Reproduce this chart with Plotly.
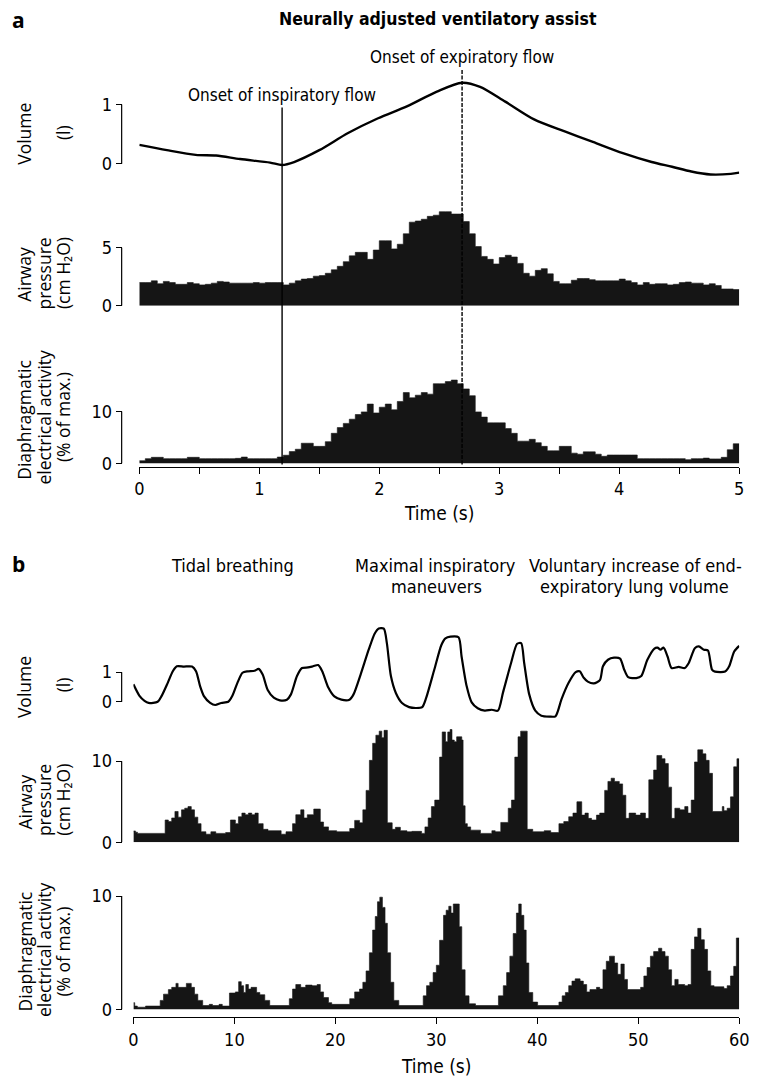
import plotly.graph_objects as go

W, H = 762, 1089
def px(x): return x / W
def py(y): return 1 - y / H

# ---------------- Panel a data ----------------
vol_a_t = [0, 0.23, 0.47, 0.64, 0.84, 1.09, 1.19, 1.29, 1.5, 1.74, 1.99, 2.23, 2.48, 2.69,
           2.84, 3.05, 3.29, 3.54, 3.78, 4.03, 4.27, 4.44, 4.6, 4.76, 4.93, 5.0]
vol_a_v = [0.32, 0.23, 0.15, 0.14, 0.08, 0.02, -0.02, 0.03, 0.23, 0.52, 0.77, 0.97, 1.22, 1.37,
           1.3, 1.05, 0.75, 0.55, 0.37, 0.18, 0.03, -0.05, -0.13, -0.18, -0.17, -0.15]

step_a = 0.05
paw_a = [2.0, 2.0, 2.15, 1.9, 2.1, 2.0, 1.85, 1.85, 2.0, 1.9,
         1.8, 1.85, 1.95, 2.1, 2.05, 1.95, 1.95, 1.95, 1.95, 2.0,
         1.95, 2.0, 2.0, 2.0, 1.8, 1.95, 2.15, 2.3, 2.35, 2.55,
         2.6, 2.8, 3.1, 3.4, 3.8, 4.3, 4.6, 4.6, 4.0, 4.8,
         5.6, 5.6, 4.9, 5.3, 6.2, 7.2, 7.3, 7.45, 7.7, 7.8,
         8.1, 8.1, 7.9, 7.9, 7.25, 6.2, 5.1, 4.25, 4.0, 3.6,
         4.15, 4.35, 4.2, 3.65, 2.8, 2.55, 3.05, 3.2, 2.75, 2.1,
         1.9, 1.9, 2.2, 2.35, 2.35, 2.25, 2.15, 2.15, 2.15, 2.15,
         2.3, 2.15, 2.0, 1.8, 2.0, 1.85, 1.9, 1.9, 1.8, 1.85,
         2.0, 2.05, 1.95, 1.95, 1.8, 1.9, 1.75, 1.45, 1.45, 1.4]
eadi_a = [0.55, 0.95, 1.2, 1.2, 0.95, 0.95, 0.95, 0.95, 1.2, 1.2,
          0.95, 0.95, 0.95, 0.95, 0.95, 0.95, 1.0, 1.25, 0.95, 0.95,
          0.95, 0.95, 0.95, 1.25, 1.6, 2.3, 2.75, 3.9, 3.9, 3.3,
          3.3, 4.2, 5.8, 6.9, 7.7, 8.5, 9.4, 9.9, 11.4, 9.7,
          10.8, 11.4, 10.3, 11.9, 13.6, 12.6, 13.1, 13.6, 13.3, 15.3,
          15.3, 15.7, 16.0, 15.3, 14.3, 13.0, 9.9, 8.9, 7.8, 7.8,
          7.8, 6.7, 5.8, 4.3, 4.3, 4.65, 4.0, 3.3, 2.45, 2.45,
          3.3, 3.3, 2.0, 1.8, 2.25, 2.25, 1.8, 1.4, 1.65, 1.65,
          1.65, 1.65, 1.65, 0.95, 0.95, 0.95, 0.95, 0.95, 0.95, 0.95,
          0.95, 0.75, 0.95, 0.95, 1.05, 0.9, 0.9, 1.2, 2.65, 3.8]
onset_insp = 1.19
onset_exp = 2.69

# ---------------- Panel b data ----------------
vol_b_t = [0, 0.6, 1.1, 1.5, 2.4, 2.8, 3.4, 3.9, 4.3, 5.0, 5.8, 6.2, 6.6, 7.0, 7.6, 8.1, 8.7,
           9.4, 9.8, 10.3, 10.8, 11.3, 12.0, 12.4, 12.8, 13.3, 13.9, 14.5, 15.2, 15.6, 16.2,
           16.7, 17.3, 17.8, 18.3, 18.7, 19.3, 19.9, 20.6, 21.4, 21.8, 22.5, 23.3, 23.9, 24.3,
           24.8, 25.1, 25.5, 26.0, 26.6, 27.3, 28.0, 28.6, 29.0, 29.8, 30.5, 30.9, 31.4, 32.2,
           32.5, 33.0, 33.5, 34.1, 34.8, 35.5, 36.1, 36.6, 37.4, 38.0, 38.4, 38.7, 39.2, 39.8,
           40.4, 41.2, 41.8, 42.4, 43.1, 43.8, 44.2, 44.6, 45.0, 45.6, 46.2, 46.5, 47.0, 47.6,
           48.2, 48.6, 49.0, 49.8, 50.3, 50.9, 51.6, 51.9, 52.2, 52.5, 52.9, 53.3, 54.0, 54.6,
           55.0, 55.6, 56.0, 56.5, 56.9, 57.3, 57.6, 58.6, 59.0, 59.5, 60.0]
vol_b_v = [0.59, 0.2, 0.03, -0.04, 0.0, 0.2, 0.64, 1.03, 1.2, 1.19, 1.19, 1.03, 0.53, 0.18, -0.04, -0.11, -0.04,
           0.0, 0.2, 0.64, 0.98, 1.03, 1.05, 1.11, 0.92, 0.4, 0.14, 0.05, 0.07, 0.25, 0.87,
           1.14, 1.16, 1.2, 1.24, 1.03, 0.48, 0.18, 0.07, 0.07, 0.25, 0.92, 1.76, 2.31, 2.48,
           2.47, 1.98, 0.87, 0.29, -0.04, -0.18, -0.21, -0.18, 0.14, 1.09, 1.92, 2.14, 2.2, 2.18,
           1.53, 0.53, -0.02, -0.22, -0.3, -0.27, -0.3, 0.31, 1.31, 1.96, 1.98, 1.31, 0.25, -0.3,
           -0.47, -0.5, -0.49, 0.09, 0.64, 1.0, 1.03, 0.81, 0.68, 0.62, 0.73, 1.2, 1.42, 1.49,
           1.46, 1.09, 0.83, 0.8, 0.87, 1.42, 1.8, 1.83, 1.76, 1.83, 1.53, 1.14, 1.18, 1.14,
           1.31, 1.81, 1.87, 1.76, 1.73, 1.09, 1.02, 1.02, 1.2, 1.7, 1.89]

paw_b_t = [0, 0.2, 0.4, 3.14, 3.46, 3.79, 4.11, 4.43, 4.76, 5.08, 5.4, 5.73, 6.05, 6.38, 6.7, 7.18,
           7.67, 8.16, 9.13, 9.61, 10.1, 10.4, 10.74, 11.07, 11.39, 11.72, 12.04, 12.36, 12.85,
           13.33, 14.63, 15.11, 15.76, 16.08, 16.57, 16.89, 17.22, 17.86, 18.51, 18.83, 19.32,
           20.13, 21.42, 21.91, 22.39, 22.72, 23.04, 23.37, 23.69, 24.01, 24.34, 24.6, 24.82,
           25.15, 25.63, 25.95, 26.44, 27.09, 27.57, 28.54, 28.87, 29.19, 29.51, 29.84, 30.32,
           30.58, 30.91, 31.13, 31.36, 31.55, 31.78, 32.01, 32.52, 32.65, 32.85, 33.07, 33.4,
           34.37, 35.5, 35.83, 36.38, 37.12, 37.44, 37.77, 38.09, 38.35, 39.0, 39.55, 40.68,
           41.33, 42.14, 42.62, 43.11, 43.53, 43.92, 44.4, 44.72, 45.05, 45.37, 45.86, 46.18,
           46.67, 46.99, 47.31, 47.64, 48.12, 48.45, 48.77, 49.09, 49.74, 50.23, 50.71, 51.04,
           51.52, 51.84, 52.33, 52.65, 52.98, 53.3, 53.62, 54.11, 54.6, 54.92, 55.24, 55.57,
           55.89, 56.38, 56.7, 57.02, 57.35, 58.32, 58.48, 58.8, 59.13, 59.45, 59.77]
paw_b_v = [1.4, 1.25, 1.1, 2.75, 2.55, 3.0, 3.8, 3.1, 4.0, 4.2, 4.4, 4.0, 3.1, 2.3, 1.3, 1.0,
           1.3, 1.1, 1.2, 2.75, 2.3, 3.15, 3.6, 3.4, 3.6, 3.4, 3.6, 2.3, 1.6,
           1.43, 1.0, 1.3, 2.3, 3.4, 4.0, 3.0, 3.4, 4.1, 2.5, 1.9, 1.43,
           1.3, 1.7, 2.7, 2.4, 4.0, 6.4, 10.1, 12.2, 13.2, 13.7, 12.9, 13.8,
           2.4, 1.6, 1.85, 1.43, 1.3, 1.35, 1.1, 1.9, 3.0, 4.4, 5.2, 10.5,
           13.6, 12.4, 13.6, 13.9, 12.6, 12.4, 13.0, 12.6, 4.5, 2.3, 1.9, 1.5,
           1.1, 1.43, 1.3, 2.45, 4.2, 5.2, 10.5, 13.0, 13.7, 1.6, 1.3, 1.43,
           1.2, 2.3, 2.55, 3.15, 3.6, 5.0, 3.35, 3.6, 2.95, 2.75, 3.35, 3.6,
           6.4, 7.5, 7.9, 7.5, 7.2, 5.8, 2.95, 3.6, 3.35, 3.6, 2.95, 7.7,
           8.9, 10.7, 10.3, 9.7, 6.8, 2.95, 4.2, 4.0, 4.4, 3.6, 5.2, 9.9,
           11.4, 10.9, 10.1, 8.5, 3.8, 4.4, 3.9, 4.2, 5.6, 9.3, 10.3]

eadi_b_t = [0, 0.13, 0.39, 1.2, 2.65, 2.98, 3.46, 3.79, 4.21, 4.43, 5.24, 5.73, 6.05, 6.38, 6.86,
            7.51, 7.83, 8.48, 8.8, 9.51, 10.1, 10.42, 10.68, 10.91, 11.13, 11.39, 11.65, 12.2,
            12.52, 13.01, 13.5, 15.44, 15.76, 16.08, 16.57, 17.06, 17.7, 18.19, 18.51, 18.83,
            19.32, 19.64, 21.42, 21.91, 22.39, 22.72, 23.04, 23.37, 23.69, 23.95, 24.17, 24.4,
            24.66, 24.92, 25.15, 25.47, 25.79, 26.28, 28.7, 29.03, 29.35, 29.68, 30.0, 30.32,
            30.71, 30.97, 31.23, 31.46, 31.68, 32.27, 32.52, 32.85, 33.24, 33.88, 36.15, 36.63,
            36.96, 37.28, 37.61, 37.93, 38.16, 38.41, 38.67, 38.9, 39.16, 39.55, 40.03, 42.14,
            42.46, 42.78, 43.11, 43.43, 43.75, 44.24, 44.56, 44.89, 45.21, 45.86, 46.18, 46.5,
            46.83, 47.15, 47.64, 47.96, 48.28, 48.61, 48.93, 50.23, 50.55, 50.87, 51.2, 51.52,
            52.01, 52.33, 52.65, 52.98, 53.3, 53.62, 53.95, 54.6, 54.92, 55.24, 55.57, 55.89,
            56.21, 56.54, 56.86, 57.18, 57.51, 58.48, 58.8, 59.13, 59.45, 59.71]
eadi_b_v = [0.6, 0.3, 0.2, 0.3, 0.8, 1.35, 1.75, 1.95, 2.3, 1.95, 2.3, 1.95, 1.35, 0.8, 0.35,
            0.45, 0.35, 0.45, 0.3, 1.45, 1.55, 2.45, 2.1, 1.5, 2.2, 1.8, 1.95, 1.5,
            1.3, 0.8, 0.35, 0.95, 1.8, 2.2, 1.95, 2.15, 2.1, 2.2, 1.55, 1.05,
            0.6, 0.45, 0.95, 1.55, 1.8, 2.4, 3.4, 5.0, 7.0, 8.2, 9.5, 9.9,
            9.0, 7.6, 5.0, 2.4, 0.8, 0.35, 1.2, 2.1, 2.4, 3.25, 3.9, 6.1,
            8.3, 8.75, 9.1, 8.5, 9.3, 7.3, 3.5, 1.2, 0.5, 0.35, 1.2, 2.1,
            3.25, 4.7, 6.7, 8.5, 9.3, 8.3, 7.0, 4.1, 1.5, 0.65, 0.35, 0.65,
            1.2, 1.5, 2.1, 2.5, 2.7, 2.5, 2.2, 1.55, 1.75, 1.95, 1.8, 3.5,
            4.25, 4.7, 4.1, 3.1, 4.0, 2.65, 1.75, 1.95, 2.95, 3.7, 4.7, 5.1,
            5.4, 5.1, 4.7, 3.5, 2.1, 2.65, 2.2, 2.1, 2.2, 5.3, 6.4, 7.15,
            6.15, 5.3, 3.4, 2.1, 2.0, 1.85, 2.1, 2.95, 3.8, 6.3]

x_ticks_a = [0, 1, 2, 3, 4, 5]
x_minor_a = [0.5, 1.5, 2.5, 3.5, 4.5]
x_ticks_b = [0, 10, 20, 30, 40, 50, 60]

INK = "#151515"
COND = "Liberation Sans Narrow, DejaVu Sans Condensed, Arial Narrow, sans-serif"
HUM = "Open Sans, Noto Sans, DejaVu Sans, sans-serif"


def step_xy(t, v, end):
    return list(t) + [end], list(v) + [v[-1]]


fig = go.Figure()

# panel a
fig.add_trace(go.Scatter(x=vol_a_t, y=vol_a_v, mode="lines", line=dict(color="black", width=2.4, shape="spline", smoothing=0.8),
                         xaxis="x", yaxis="y", showlegend=False))
ta = [round(k * step_a, 3) for k in range(len(paw_a))]
sx, sy = step_xy(ta, paw_a, 5.0)
fig.add_trace(go.Scatter(x=sx, y=sy, mode="lines", line=dict(color=INK, width=0.6, shape="hv"), fill="tozeroy",
                         fillcolor=INK, xaxis="x", yaxis="y2", showlegend=False))
sx, sy = step_xy(ta, eadi_a, 5.0)
fig.add_trace(go.Scatter(x=sx, y=sy, mode="lines", line=dict(color=INK, width=0.6, shape="hv"), fill="tozeroy",
                         fillcolor=INK, xaxis="x", yaxis="y3", showlegend=False))

# panel b
fig.add_trace(go.Scatter(x=vol_b_t, y=vol_b_v, mode="lines", line=dict(color="black", width=2.2, shape="spline", smoothing=0.7),
                         xaxis="x2", yaxis="y4", showlegend=False))
sx, sy = step_xy(paw_b_t, paw_b_v, 60.0)
fig.add_trace(go.Scatter(x=sx, y=sy, mode="lines", line=dict(color=INK, width=0.6, shape="hv"), fill="tozeroy",
                         fillcolor=INK, xaxis="x2", yaxis="y5", showlegend=False))
sx, sy = step_xy(eadi_b_t, eadi_b_v, 60.0)
fig.add_trace(go.Scatter(x=sx, y=sy, mode="lines", line=dict(color=INK, width=0.6, shape="hv"), fill="tozeroy",
                         fillcolor=INK, xaxis="x2", yaxis="y6", showlegend=False))

YPOS = px(119)
tickfont = dict(family=COND, size=18, color="black")

def yax(bottom, top, rng, tv):
    return dict(domain=[py(bottom), py(top)], range=rng, anchor="free", position=YPOS,
                tickvals=tv, ticks="outside", ticklen=6, tickwidth=1.2, tickcolor="black",
                showline=False, showgrid=False, zeroline=False, tickfont=tickfont, fixedrange=True)

fig.update_layout(
    width=W, height=H, margin=dict(l=0, r=0, t=0, b=0),
    paper_bgcolor="white", plot_bgcolor="white",
    xaxis=dict(domain=[px(137), px(749)], range=[0, 5], anchor="free", position=py(468),
               tickvals=x_ticks_a, ticks="outside", ticklen=6, tickwidth=1.2,
               minor=dict(tickvals=x_minor_a, ticks="outside", ticklen=6, tickwidth=1.2, tickcolor="black", showgrid=False),
               tickcolor="black", showline=True, linecolor="black", linewidth=1.2,
               showgrid=False, zeroline=False, tickfont=tickfont),
    xaxis2=dict(domain=[px(131), px(749)], range=[0, 60], anchor="free", position=py(1026),
                tickvals=x_ticks_b, ticks="outside", ticklen=6, tickwidth=1.2,
                tickcolor="black", showline=True, linecolor="black", linewidth=1.2,
                showgrid=False, zeroline=False, tickfont=tickfont),
    yaxis=yax(179, 71, [-0.3, 1.5], [0, 1]),
    yaxis2=yax(305, 199, [0, 9], [0, 5]),
    yaxis3=yax(465, 375, [0, 17], [0, 10]),
    yaxis4=yax(724.5, 627, [-0.6, 2.65], [0, 1]),
    yaxis5=yax(849, 729.7, [0, 14.5], [0, 10]),
    yaxis6=yax(1018.5, 897.75, [0, 10.5], [0, 10]),
)

shapes = []
for ref, top in [("y", 1), ("y2", 5), ("y3", 10), ("y4", 1), ("y5", 10), ("y6", 10)]:
    shapes.append(dict(type="line", xref="paper", yref=ref, x0=YPOS, x1=YPOS, y0=0, y1=top,
                       line=dict(color="black", width=1.2)))
shapes.append(dict(type="line", xref="x", yref="paper", x0=onset_insp, x1=onset_insp,
                   y0=py(466), y1=py(104), line=dict(color="black", width=1.4)))
shapes.append(dict(type="line", xref="x", yref="paper", x0=onset_exp, x1=onset_exp,
                   y0=py(466), y1=py(66), line=dict(color="black", width=1.4, dash="4px,1.5px")))
fig.update_layout(shapes=shapes)

ann = []
def text(x, y, s, size=18, family=COND, angle=0):
    ann.append(dict(x=px(x), y=py(y), xref="paper", yref="paper", text=s, showarrow=False,
                    xanchor="center", yanchor="middle", textangle=angle,
                    font=dict(family=family, size=size, color="black")))

text(14, 15, "<b>a</b>", size=21, family=HUM)
text(14, 567, "<b>b</b>", size=21, family=HUM)
text(442, 14, "<b>Neurally adjusted ventilatory assist</b>", size=17.5)
text(283, 91, "Onset of inspiratory flow", size=17)
text(466, 53, "Onset of expiratory flow", size=17)
text(443, 515, "Time (s)", size=19)
text(440, 1076, "Time (s)", size=19)
text(232, 568, "Tidal breathing", size=18)
text(439, 568, "Maximal inspiratory", size=18)
text(440, 590, "maneuvers", size=18)
text(643, 568, "Voluntary increase of end-", size=18)
text(642, 590, "expiratory lung volume", size=18)

# y-axis labels
Y_SIZE = 17.5
C1, C2, C3 = 20, 40, 59
text(C1, 131, "Volume", size=Y_SIZE, family=HUM, angle=-90)
text(C3, 129, "(l)", size=Y_SIZE, family=HUM, angle=-90)
text(C1, 273, "Airway", size=Y_SIZE, family=HUM, angle=-90)
text(C2, 272, "pressure", size=Y_SIZE, family=HUM, angle=-90)
text(C3, 272, "(cm H₂O)", size=Y_SIZE, family=HUM, angle=-90)
text(C1, 421, "Diaphragmatic", size=Y_SIZE, family=HUM, angle=-90)
text(C2, 418, "electrical activity", size=Y_SIZE, family=HUM, angle=-90)
text(C3, 418, "(% of max.)", size=Y_SIZE, family=HUM, angle=-90)

text(C1, 692, "Volume", size=Y_SIZE, family=HUM, angle=-90)
text(C3, 689, "(l)", size=Y_SIZE, family=HUM, angle=-90)
text(C1, 808, "Airway", size=Y_SIZE, family=HUM, angle=-90)
text(C2, 806, "pressure", size=Y_SIZE, family=HUM, angle=-90)
text(C3, 806, "(cm H₂O)", size=Y_SIZE, family=HUM, angle=-90)
text(C1, 960, "Diaphragmatic", size=Y_SIZE, family=HUM, angle=-90)
text(C2, 958, "electrical activity", size=Y_SIZE, family=HUM, angle=-90)
text(C3, 960, "(% of max.)", size=Y_SIZE, family=HUM, angle=-90)

fig.update_layout(annotations=ann)
fig.write_html("out.html")
